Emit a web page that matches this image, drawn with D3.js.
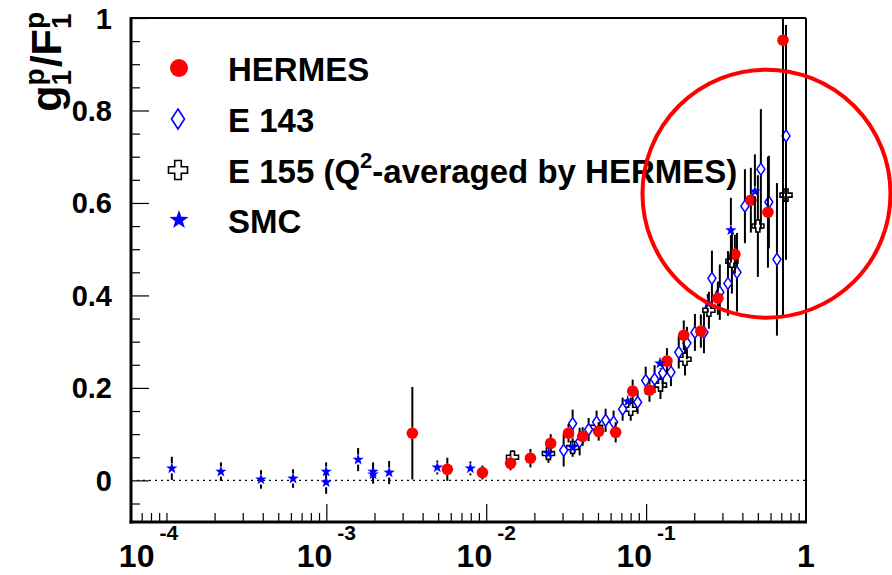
<!DOCTYPE html>
<html><head><meta charset="utf-8">
<script src="https://cdn.jsdelivr.net/npm/d3@7"></script>
<style>
body{margin:0;background:#fff}
svg{display:block}
text{font-family:"Liberation Sans",Arial,Helvetica,sans-serif;font-weight:bold;fill:#000}
</style>
</head><body>
<svg id="c" width="892" height="575"></svg>
<script>
// ---------------- data ----------------
const hermesX = [0.00345,0.00571,0.00947,0.0142,0.0189,0.0253,0.0327,0.0401,0.0505,0.0645,0.0824,0.105,0.135,0.172,0.220,0.281,0.359,0.452,0.578,0.718];
const hermesY = [0.102,0.024,0.017,0.037,0.048,0.080,0.102,0.095,0.106,0.104,0.193,0.195,0.258,0.314,0.323,0.394,0.489,0.606,0.580,0.952];
const hermesE = [0.100,0.025,0.015,0.015,0.020,0.020,0.020,0.020,0.020,0.022,0.025,0.025,0.028,0.032,0.036,0.036,0.042,0.070,0.120,0.600];

const e143X = [0.0305,0.0347,0.0384,0.0437,0.0490,0.0558,0.0626,0.0713,0.0885,0.0994,0.113,0.127,0.143,0.160,0.180,0.202,0.230,0.258,0.289,0.325,0.370,0.415,0.522,0.586,0.658,0.750];
const e143Y = [0.065,0.123,0.084,0.110,0.126,0.130,0.126,0.154,0.169,0.216,0.219,0.232,0.234,0.277,0.297,0.320,0.320,0.437,0.407,0.426,0.450,0.593,0.673,0.602,0.478,0.745];
const e143E = [0.035,0.030,0.030,0.025,0.025,0.025,0.025,0.025,0.025,0.030,0.030,0.030,0.030,0.035,0.035,0.040,0.045,0.060,0.060,0.070,0.085,0.080,0.130,0.100,0.165,0.240];

const e155X = [0.0146,0.0245,0.0347,0.0490,0.0801,0.123,0.175,0.247,0.344,0.500,0.750];
const e155Y = [0.050,0.058,0.071,0.115,0.154,0.206,0.262,0.368,0.474,0.550,0.617];
const e155E = [0.015,0.020,0.020,0.020,0.025,0.030,0.035,0.040,0.070,0.110,0.140];

const smcX = [1.08e-4,2.19e-4,3.90e-4,6.19e-4,9.97e-4,9.97e-4,1.58e-3,1.96e-3,1.96e-3,2.47e-3,4.94e-3,7.96e-3,0.0245,0.0347,0.0767,0.122,0.243,0.339,0.479];
const smcY = [0.026,0.019,0.002,0.004,0.019,-0.004,0.045,0.019,0.013,0.017,0.028,0.026,0.058,0.071,0.171,0.253,0.383,0.541,0.625];
const smcE = [0.025,0.020,0.020,0.020,0.020,0.025,0.025,0.020,0.020,0.025,0.015,0.015,0.012,0.012,0.012,0.012,0.020,0.070,0.080];

const yTicksMajor = [0,0.2,0.4,0.6,0.8,1];
const yTickLabels = ["0","0.2","0.4","0.6","0.8","1"];
const xTickValues = [1e-4,1e-3,1e-2,1e-1,1];
const xTickExps = ["-4","-3","-2","-1",""];
const legendLabels = ["HERMES","E 143","E 155 (Q","SMC"];
const circleAnnot = {x:0.566, y:0.620, r:124};

// ---------------- chart ----------------
const L=131,R=806,T=18,B=522;
const x=d3.scaleLog().domain([6e-5,1]).range([L,R]);
const y=d3.scaleLinear().domain([-0.09,1]).range([B,T]);
const svg=d3.select('#c');

svg.append('clipPath').attr('id','clip').append('rect').attr('x',L).attr('y',T).attr('width',R-L).attr('height',B-T);

// zero line
svg.append('line').attr('x1',L).attr('x2',R).attr('y1',y(0)).attr('y2',y(0))
  .attr('stroke','#000').attr('stroke-width',1.4).attr('stroke-dasharray','2,4');

// x ticks
const xMinor=[];
for(let d=-5; d<0; d++){ for(let m=1;m<10;m++){ const v=m*Math.pow(10,d); if(v>=6.5e-5 && v<1 && !(m===1 && d>-4)) xMinor.push(v);} }
const xMajorTicks=[1e-3,1e-2,1e-1];
svg.append('g').attr('transform',`translate(0,${B})`)
  .call(d3.axisBottom(x).tickValues(xMinor).tickSize(-9).tickFormat(''))
  .call(g=>{g.select('.domain').remove(); g.selectAll('line').attr('stroke','#000').attr('stroke-width',1.2);});
svg.append('g').attr('transform',`translate(0,${B})`)
  .call(d3.axisBottom(x).tickValues(xMajorTicks).tickSize(-18).tickFormat(''))
  .call(g=>{g.select('.domain').remove(); g.selectAll('line').attr('stroke','#000').attr('stroke-width',1.2);});

// y ticks
const yMinor=d3.range(-0.05,1.0001,0.05).filter(v=>!yTicksMajor.some(m=>Math.abs(m-v)<1e-6));
svg.append('g').attr('transform',`translate(${L},0)`)
  .call(d3.axisLeft(y).tickValues(yMinor).tickSize(-9).tickFormat(''))
  .call(g=>{g.select('.domain').remove(); g.selectAll('line').attr('stroke','#000').attr('stroke-width',1.2);});
svg.append('g').attr('transform',`translate(${L},0)`)
  .call(d3.axisLeft(y).tickValues(yTicksMajor).tickSize(-18).tickFormat(''))
  .call(g=>{g.select('.domain').remove(); g.selectAll('line').attr('stroke','#000').attr('stroke-width',1.2);});

// frame
svg.append('line').attr('x1',L).attr('x2',R).attr('y1',T).attr('y2',T).attr('stroke','#000').attr('stroke-width',2);
svg.append('line').attr('x1',R).attr('x2',R).attr('y1',T).attr('y2',B).attr('stroke','#000').attr('stroke-width',2);
svg.append('line').attr('x1',L).attr('x2',L).attr('y1',T-1).attr('y2',B+1.5).attr('stroke','#000').attr('stroke-width',3);
svg.append('line').attr('x1',L-1.5).attr('x2',R+1).attr('y1',B).attr('y2',B).attr('stroke','#000').attr('stroke-width',3);

// y tick labels
yTicksMajor.forEach((v,i)=>{
  svg.append('text').attr('x',112).attr('y',y(v)+10.5).attr('text-anchor','end')
    .attr('font-size',29).text(yTickLabels[i]);
});
// x tick labels (ROOT shifts the first, edge label to the left)
xTickValues.forEach((v,i)=>{
  const shift = i===0 ? -18 : 0;
  const t=svg.append('text').attr('x',x(v)+shift).attr('y',567).attr('text-anchor','middle').attr('font-size',32);
  t.append('tspan').text(xTickExps[i]===''?'1':'10');
  if(xTickExps[i]!==''){
    t.append('tspan').attr('dx',5).attr('dy',-27).attr('font-size',21).text(xTickExps[i]);
  }
});

// y title g_1^p / F_1^p
(function(){
  const fs=43, ss=28;
  const g=svg.append('g');
  let cx=0;
  function piece(str,size,dy){
    const t=g.append('text').attr('x',cx).attr('y',dy).attr('font-size',size).text(str);
    return t.node().getComputedTextLength();
  }
  function stack(sup,sub){
    const a=piece(sup,ss,-17); const b=piece(sub,ss,10); cx+=Math.max(a,b)+1;
  }
  cx+=piece('g',fs,0); stack('p','1');
  cx+=piece('/F',fs,0); stack('p','1');
  g.attr('transform',`translate(61,${11+cx}) rotate(-90)`);
})();

// marker paths
function diamondPath(w,h){return `M0,${-h}L${w},0L0,${h}L${-w},0Z`;}
function crossPath(Lh,a){return `M${-a},${-Lh}H${a}V${-a}H${Lh}V${a}H${a}V${Lh}H${-a}V${a}H${-Lh}V${-a}H${-a}Z`;}
function starPath(Ro){const Ri=Ro*0.40;let p='';for(let i=0;i<10;i++){const r=i%2?Ri:Ro;const ang=-Math.PI/2+i*Math.PI/5;p+=(i?'L':'M')+(r*Math.cos(ang)).toFixed(2)+','+(r*Math.sin(ang)).toFixed(2);}return p+'Z';}

const plot=svg.append('g').attr('clip-path','url(#clip)');

function drawSeries(X,Y,E,gap,drawMarker){
  const gb=plot.append('g');
  X.forEach((xv,i)=>{
    const px=x(xv), py=y(Y[i]);
    const top=y(Y[i]+E[i]), bot=y(Y[i]-E[i]);
    if(py-top>gap) gb.append('line').attr('x1',px).attr('x2',px).attr('y1',top).attr('y2',py-gap).attr('stroke','#000').attr('stroke-width',2);
    if(bot-py>gap) gb.append('line').attr('x1',px).attr('x2',px).attr('y1',py+gap).attr('y2',bot).attr('stroke','#000').attr('stroke-width',2);
  });
  const gm=plot.append('g');
  X.forEach((xv,i)=>drawMarker(gm,x(xv),y(Y[i])));
}

drawSeries(e155X,e155Y,e155E,6,(g,px,py)=>g.append('path').attr('d',crossPath(6,2)).attr('transform',`translate(${px},${py})`).attr('fill','#fff').attr('stroke','#000').attr('stroke-width',1.6));
drawSeries(e143X,e143Y,e143E,6,(g,px,py)=>g.append('path').attr('d',diamondPath(4,6)).attr('transform',`translate(${px},${py})`).attr('fill','#fff').attr('stroke','#0000ff').attr('stroke-width',1.5));
drawSeries(hermesX,hermesY,hermesE,5.5,(g,px,py)=>g.append('circle').attr('cx',px).attr('cy',py).attr('r',5.8).attr('fill','#ff0000'));
drawSeries(smcX,smcY,smcE,5,(g,px,py)=>g.append('path').attr('d',starPath(6)).attr('transform',`translate(${px},${py})`).attr('fill','#0000ff'));

// legend
const legY=[68,119,170,220];
const lg=svg.append('g');
lg.append('circle').attr('cx',179).attr('cy',legY[0]).attr('r',9).attr('fill','#ff0000');
lg.append('path').attr('d',diamondPath(6.5,10)).attr('transform',`translate(178,${legY[1]})`).attr('fill','#fff').attr('stroke','#0000ff').attr('stroke-width',1.6);
lg.append('path').attr('d',crossPath(9.5,3.3)).attr('transform',`translate(178,${legY[2]})`).attr('fill','#fff').attr('stroke','#000').attr('stroke-width',1.6);
lg.append('path').attr('d',starPath(10)).attr('transform',`translate(179,${legY[3]})`).attr('fill','#0000ff');
legendLabels.forEach((s,i)=>{
  const t=lg.append('text').attr('x',228).attr('y',legY[i]+13).attr('font-size',33);
  t.append('tspan').text(s);
  if(i===2){
    t.append('tspan').attr('dy',-15).attr('font-size',22).text('2');
    t.append('tspan').attr('dy',15).attr('font-size',33).text('-averaged by HERMES)');
  }
});

// annotation circle
svg.append('circle').attr('cx',x(circleAnnot.x)).attr('cy',y(circleAnnot.y)).attr('r',circleAnnot.r)
  .attr('fill','none').attr('stroke','#ff0000').attr('stroke-width',4);
</script>
</body></html>
